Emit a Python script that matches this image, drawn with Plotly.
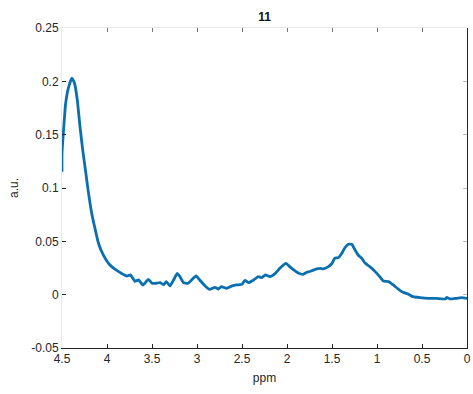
import plotly.graph_objects as go

ppm = [4.50, 4.50, 4.48, 4.46, 4.43, 4.39, 4.36, 4.33, 4.30, 4.27, 4.24, 4.21, 4.17, 4.13, 4.094, 4.04,
       3.97, 3.87, 3.78, 3.74, 3.69, 3.65, 3.60, 3.54, 3.50, 3.45, 3.41, 3.37, 3.34, 3.30, 3.26, 3.22,
       3.19, 3.15, 3.10, 3.06, 3.01, 2.97, 2.91, 2.86, 2.80, 2.76, 2.73, 2.67, 2.61, 2.56, 2.50, 2.467,
       2.43, 2.37, 2.32, 2.28, 2.24, 2.19, 2.13, 2.08, 2.01, 1.97, 1.91, 1.87, 1.82, 1.78, 1.73, 1.67,
       1.63, 1.60, 1.54, 1.50, 1.47, 1.43, 1.39, 1.36, 1.32, 1.28, 1.244, 1.21, 1.17, 1.13, 1.08, 1.02,
       0.97, 0.93, 0.87, 0.82, 0.76, 0.71, 0.65, 0.60, 0.52, 0.43, 0.34, 0.24, 0.225, 0.19, 0.115, 0.06,
       0.0]
signal = [0.1153, 0.1326, 0.1575, 0.179, 0.1935, 0.203, 0.198, 0.1825, 0.1575, 0.1357, 0.117, 0.098, 0.0763, 0.0607, 0.048, 0.037,
          0.028, 0.0216, 0.0175, 0.0185, 0.0125, 0.0138, 0.0091, 0.0144, 0.0107, 0.0107, 0.0113, 0.0094, 0.0122, 0.0082, 0.0138, 0.0200,
          0.0169, 0.0113, 0.0107, 0.0138, 0.0175, 0.0138, 0.0082, 0.0050, 0.0069, 0.0053, 0.0075, 0.0060, 0.0082, 0.0091, 0.0097, 0.0135,
          0.0113, 0.0138, 0.0169, 0.0160, 0.0185, 0.0169, 0.0200, 0.0248, 0.0294, 0.0263, 0.0222, 0.0200, 0.0191, 0.0210, 0.0222, 0.0241,
          0.0247, 0.0241, 0.0263, 0.0294, 0.0341, 0.0347, 0.0388, 0.0435, 0.0472, 0.0472, 0.0419, 0.0372, 0.0341, 0.0294, 0.0263, 0.0216,
          0.0169, 0.0128, 0.0122, 0.0091, 0.0050, 0.0022, 0.0004, -0.0019, -0.0028, -0.0034, -0.0034, -0.0040, -0.0025, -0.0040, -0.0034, -0.0028,
          -0.0034]

x_ticks = [4.5, 4, 3.5, 3, 2.5, 2, 1.5, 1, 0.5, 0]
x_labels = ["4.5", "4", "3.5", "3", "2.5", "2", "1.5", "1", "0.5", "0"]
y_ticks = [-0.05, 0, 0.05, 0.1, 0.15, 0.2, 0.25]
y_labels = ["-0.05", "0", "0.05", "0.1", "0.15", "0.2", "0.25"]

FONT = "Liberation Sans, Arial, sans-serif"
DARK = "#262626"
LIGHT = "#e8e8e8"

fig = go.Figure()
fig.add_trace(go.Scatter(x=ppm, y=signal, mode="lines",
                         line=dict(color="#0a6fae", width=2.8, shape="spline", smoothing=0.4),
                         showlegend=False, hoverinfo="skip"))
fig.add_trace(go.Scatter(x=[None], y=[None], xaxis="x2", yaxis="y2", showlegend=False))

fig.update_layout(
    width=473, height=394,
    margin=dict(l=62, r=6, t=28, b=46, autoexpand=False),
    paper_bgcolor="white", plot_bgcolor="white",
    font=dict(family=FONT, size=12, color=DARK),
    title=dict(text="<b>11</b>", x=0.5, xref="paper", xanchor="center",
               y=0.957, yref="container", yanchor="middle",
               font=dict(size=12, color="#111111")),
    xaxis=dict(range=[4.5, 0], tickvals=x_ticks, ticktext=x_labels, ticks="inside", ticklen=4,
               tickcolor=DARK, showline=True, linecolor=DARK, linewidth=1, showgrid=False,
               zeroline=False, automargin=False, tickfont=dict(size=12, color=DARK),
               title=dict(text="ppm", standoff=8, font=dict(size=12, color=DARK))),
    yaxis=dict(range=[-0.05, 0.25], tickvals=y_ticks, ticktext=y_labels, ticks="inside", ticklen=4,
               tickcolor=DARK, showline=True, linecolor=LIGHT, linewidth=1, showgrid=False,
               zeroline=False, automargin=False, tickfont=dict(size=12, color=DARK),
               title=dict(text="a.u.", standoff=10, font=dict(size=12, color=DARK))),
    xaxis2=dict(range=[4.5, 0], overlaying="x", side="top", tickvals=x_ticks, ticks="inside",
                ticklen=4, tickcolor="#777777", showticklabels=False, showline=True,
                linecolor=LIGHT, showgrid=False, zeroline=False, automargin=False),
    yaxis2=dict(range=[-0.05, 0.25], overlaying="y", side="right", tickvals=y_ticks, ticks="inside",
                ticklen=4, tickcolor="#bbbbbb", showticklabels=False, showline=True,
                linecolor=DARK, showgrid=False, zeroline=False, automargin=False),
)

fig.write_html(
    "out.html",
    config={"displayModeBar": False},
    post_script=("document.body.style.margin='0';"
                 "document.body.style.overflow='hidden';"
                 "document.documentElement.style.overflow='hidden';"),
)
